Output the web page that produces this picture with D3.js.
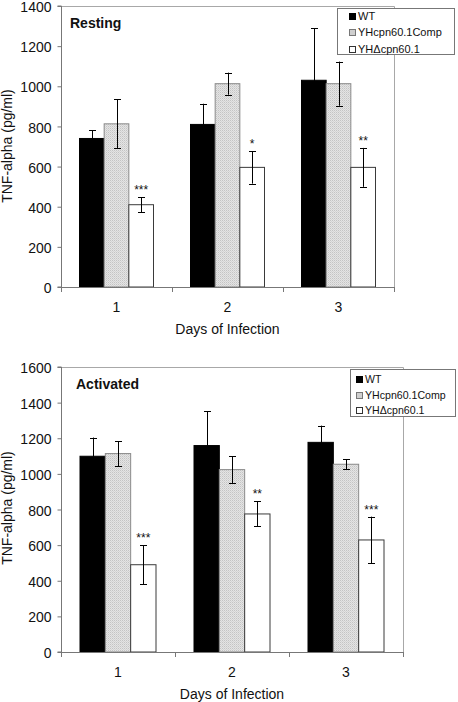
<!DOCTYPE html>
<html><head><meta charset="utf-8">
<script src="https://cdn.jsdelivr.net/npm/d3@7"></script>
<style>
html,body{margin:0;padding:0;background:#fff;}
svg{display:block;font-family:"Liberation Sans",Arial,sans-serif;}
</style></head>
<body>
<svg id="chart" width="458" height="702"></svg>
<script>
// ---- Data ----
const days = ["1", "2", "3"];
const seriesNames = ["WT", "YHcpn60.1Comp", "YH\u0394cpn60.1"];

const restingWT = [740, 810, 1030];
const restingWTErr = [40, 103, 259];
const restingComp = [813, 1013, 1013];
const restingCompErr = [122, 55, 110];
const restingMut = [410, 596, 596];
const restingMutErr = [38, 81, 97];
const restingSig = ["***", "*", "**"];
const restingTicks = [0, 200, 400, 600, 800, 1000, 1200, 1400];

const activatedWT = [1099, 1159, 1177];
const activatedWTErr = [105, 192, 94];
const activatedComp = [1114, 1024, 1054];
const activatedCompErr = [70, 76, 27];
const activatedMut = [490, 775, 629];
const activatedMutErr = [110, 70, 131];
const activatedSig = ["***", "**", "***"];
const activatedTicks = [0, 200, 400, 600, 800, 1000, 1200, 1400, 1600];

const svg = d3.select("#chart");

// pattern for complemented strain
const defs = svg.append("defs");
const pat = defs.append("pattern").attr("id", "chk").attr("patternUnits", "userSpaceOnUse")
  .attr("width", 2).attr("height", 2);
pat.append("rect").attr("width", 2).attr("height", 2).attr("fill", "#e4e4e4");
pat.append("rect").attr("width", 1).attr("height", 1).attr("fill", "#c4c4c4");
pat.append("rect").attr("x", 1).attr("y", 1).attr("width", 1).attr("height", 1).attr("fill", "#d4d4d4");

const fills = ["#000", "url(#chk)", "#fff"];
const strokes = ["#000", "#8a8a8a", "#3a3a3a"];
const legendFills = ["#000", "#cfcfcf", "#fff"];
const legendStrokes = ["#000", "#777", "#333"];

function panel(cfg) {
  const g = svg.append("g");
  const x0 = d3.scaleBand().domain(days).range([cfg.left, cfg.right]).paddingInner(1/3).paddingOuter(1/6);
  const x1 = d3.scaleBand().domain(d3.range(3)).range([0, x0.bandwidth()]);
  const y = d3.scaleLinear().domain([0, d3.max(cfg.ticks)]).range([cfg.bottom, cfg.top]);

  // top and right frame
  g.append("path")
    .attr("d", `M${cfg.left},${cfg.top + 0.5}H${cfg.right + 0.5}V${cfg.bottom}`)
    .attr("fill", "none").attr("stroke", "#a8a8a8").attr("stroke-width", 1);

  const series = [
    {vals: cfg.wt, errs: cfg.wtErr},
    {vals: cfg.comp, errs: cfg.compErr},
    {vals: cfg.mut, errs: cfg.mutErr}
  ];

  // bars
  series.forEach((s, si) => {
    g.selectAll(null).data(days).enter().append("rect")
      .attr("x", d => x0(d) + x1(si))
      .attr("y", (d, i) => y(s.vals[i]))
      .attr("width", x1.bandwidth())
      .attr("height", (d, i) => y(0) - y(s.vals[i]))
      .attr("fill", fills[si])
      .attr("stroke", strokes[si]).attr("stroke-width", 1);
  });

  // error bars
  series.forEach((s, si) => {
    const eg = g.selectAll(null).data(days).enter().append("g");
    const cx = d => Math.round(x0(d) + x1(si) + x1.bandwidth() / 2) + 0.5;
    eg.append("line")
      .attr("x1", cx).attr("x2", cx)
      .attr("y1", (d, i) => y(s.vals[i] + s.errs[i]))
      .attr("y2", (d, i) => y(s.vals[i] - s.errs[i]))
      .attr("stroke", "#000").attr("stroke-width", 1);
    [1, -1].forEach(sign => {
      eg.append("line")
        .attr("x1", d => cx(d) - 3.5).attr("x2", d => cx(d) + 3.5)
        .attr("y1", (d, i) => Math.round(y(s.vals[i] + sign * s.errs[i])) + 0.5)
        .attr("y2", (d, i) => Math.round(y(s.vals[i] + sign * s.errs[i])) + 0.5)
        .attr("stroke", "#000").attr("stroke-width", 1);
    });
  });

  // significance
  g.selectAll(null).data(days).enter().append("text")
    .attr("x", d => x0(d) + x1(2) + x1.bandwidth() / 2)
    .attr("y", (d, i) => y(cfg.mut[i] + cfg.mutErr[i]) - 3)
    .attr("text-anchor", "middle").attr("font-size", 12).attr("fill", "#111")
    .text((d, i) => cfg.sig[i]);

  // y axis
  const yAxis = g.append("g").attr("transform", `translate(${cfg.left + 0.5},0)`)
    .call(d3.axisLeft(y).tickValues(cfg.ticks).tickSize(4).tickPadding(6).tickFormat(d3.format("d")));
  yAxis.select(".domain").attr("stroke", "#777").attr("d", `M-4,${cfg.bottom}H0V${cfg.top}H-4`);
  yAxis.selectAll(".tick line").attr("stroke", "#777");
  yAxis.selectAll("text").attr("font-size", 14).attr("fill", "#111").attr("dy", "0.4em")
    .attr("font-family", "'Liberation Sans',Arial,sans-serif");

  // x axis
  const bounds = [cfg.left, x0(days[1]) - x0.step() * x0.paddingInner() / 2, x0(days[2]) - x0.step() * x0.paddingInner() / 2, cfg.right];
  const xa = g.append("g");
  xa.append("line").attr("x1", cfg.left).attr("x2", cfg.right + 0.5)
    .attr("y1", cfg.bottom + 0.5).attr("y2", cfg.bottom + 0.5).attr("stroke", "#777");
  xa.selectAll(null).data(bounds).enter().append("line")
    .attr("x1", d => Math.round(d) + 0.5).attr("x2", d => Math.round(d) + 0.5)
    .attr("y1", cfg.bottom).attr("y2", cfg.bottom + 5).attr("stroke", "#777");
  xa.selectAll(null).data(days).enter().append("text")
    .attr("x", d => x0(d) + x0.bandwidth() / 2)
    .attr("y", cfg.bottom + 25)
    .attr("text-anchor", "middle").attr("font-size", 14).attr("fill", "#111")
    .text(d => d);

  // axis titles
  g.append("text").attr("x", (cfg.left + cfg.right) / 2).attr("y", cfg.bottom + 47)
    .attr("text-anchor", "middle").attr("font-size", 14).attr("fill", "#111")
    .text("Days of Infection");
  g.append("text").attr("transform", `translate(12,${cfg.yTitleY}) rotate(-90)`)
    .attr("text-anchor", "middle").attr("font-size", 14).attr("fill", "#111")
    .text("TNF-alpha (pg/ml)");

  // panel label
  g.append("text").attr("x", cfg.labelX).attr("y", cfg.top + 22)
    .attr("font-size", 14).attr("font-weight", "bold").attr("fill", "#111")
    .text(cfg.label);

  // legend
  const lg = g.append("g");
  lg.append("rect").attr("x", cfg.lg.x + 0.5).attr("y", cfg.lg.y + 0.5)
    .attr("width", cfg.lg.w).attr("height", cfg.lg.h)
    .attr("fill", "#fff").attr("stroke", "#777");
  seriesNames.forEach((n, i) => {
    const cy = cfg.lg.y + cfg.lg.first + i * cfg.lg.step;
    lg.append("rect").attr("x", cfg.lg.mx + 0.5).attr("y", Math.round(cy - 3) + 0.5)
      .attr("width", 6).attr("height", 6)
      .attr("fill", legendFills[i]).attr("stroke", legendStrokes[i]);
    lg.append("text").attr("x", cfg.lg.mx + 9).attr("y", cy + 4)
      .attr("font-size", cfg.lg.fs).attr("fill", "#111").text(n);
  });
}

panel({
  left: 61, right: 394, top: 6, bottom: 287,
  ticks: restingTicks,
  wt: restingWT, wtErr: restingWTErr,
  comp: restingComp, compErr: restingCompErr,
  mut: restingMut, mutErr: restingMutErr,
  sig: restingSig,
  label: "Resting", labelX: 70, yTitleY: 146,
  lg: {x: 337, y: 8, w: 117, h: 46, mx: 349, first: 7.5, step: 16.5, fs: 11}
});

panel({
  left: 61, right: 403, top: 367, bottom: 652,
  ticks: activatedTicks,
  wt: activatedWT, wtErr: activatedWTErr,
  comp: activatedComp, compErr: activatedCompErr,
  mut: activatedMut, mutErr: activatedMutErr,
  sig: activatedSig,
  label: "Activated", labelX: 76, yTitleY: 508,
  lg: {x: 350, y: 369, w: 105, h: 47, mx: 356, first: 10, step: 15.5, fs: 10.6}
});
</script>
</body></html>
